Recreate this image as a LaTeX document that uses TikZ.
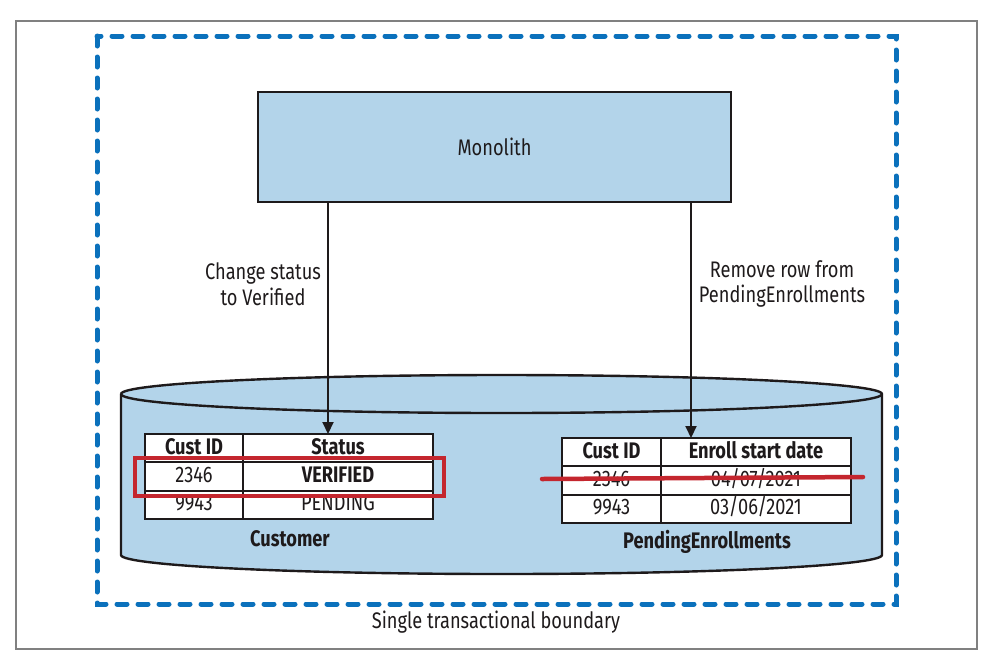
\documentclass[tikz,border=0pt]{standalone}
\usepackage{fontspec}
\setmainfont{Fira Sans}[FakeStretch=0.81]
\usetikzlibrary{arrows.meta}
\definecolor{dbblue}{HTML}{B3D4EA}
\definecolor{bndblue}{HTML}{0B71BC}
\definecolor{hlred}{HTML}{C4262E}
\definecolor{ink}{HTML}{1E1A1B}
\definecolor{framegray}{HTML}{808080}
\begin{document}
\begin{tikzpicture}[x=1pt,y=-1pt,
  every node/.style={font=\fontsize{22.5}{25.5}\selectfont, text=ink},
  cellbox/.style={draw=ink, fill=white, line width=2.2pt, inner sep=0pt, outer sep=0pt, minimum height=28.3pt, text height=15.5pt, text depth=3.5pt},
  hdr/.style={cellbox, font=\fontsize{22.5}{25.5}\selectfont\bfseries},
  lbl/.style={align=center, inner sep=0pt},
  arr/.style={draw=ink, line width=2pt, -{Triangle[length=12pt,width=11pt]}},
]
\useasboundingbox (0,0) rectangle (992,665);
% outer frame
\draw[framegray, line width=2pt] (16,21) rectangle (977,649);
% transactional boundary
\draw[bndblue, line width=5pt, line cap=round, dash pattern=on 10pt off 11pt] (97,36) rectangle (896,604);
\node[lbl] (bnd) at (496,622) {Single transactional boundary};

% database cylinder
\fill[dbblue] (121,394) -- (121,555) arc[start angle=180, end angle=0, x radius=380.5, y radius=19]
  -- (882,394) arc[start angle=0, end angle=-180, x radius=380.5, y radius=19] -- cycle;
\draw[ink, line width=2.4pt] (121,394) -- (121,555) arc[start angle=180, end angle=0, x radius=380.5, y radius=19]
  -- (882,394) arc[start angle=0, end angle=-180, x radius=380.5, y radius=19];
\draw[ink, line width=2.4pt] (121,394) arc[start angle=180, end angle=0, x radius=380.5, y radius=19];

% monolith
\node[draw=ink, fill=dbblue, line width=2.4pt, minimum width=473pt, minimum height=110pt, inner sep=0pt] (mono) at (494.5,147) {Monolith};

% customer table
\node[hdr, minimum width=98pt] (c11) at (194,448.2) {Cust ID};
\node[hdr, minimum width=190pt] (c12) at (338,448.2) {Status};
\node[cellbox, minimum width=98pt] (c21) at (194,476.5) {2346};
\node[cellbox, minimum width=190pt, font=\fontsize{22.5}{25.5}\selectfont\bfseries] (c22) at (338,476.5) {VERIFIED};
\node[cellbox, minimum width=98pt] (c31) at (194,504.8) {9943};
\node[cellbox, minimum width=190pt] (c32) at (338,504.8) {PENDING};
\node[lbl, font=\fontsize{22.5}{25.5}\selectfont\bfseries] (cname) at (290,539) {Customer};
\draw[hlred, line width=4pt] (135,458) rectangle (444,496);

% pending enrollments table
\node[hdr, minimum width=99pt] (p11) at (611.5,452.2) {Cust ID};
\node[hdr, minimum width=190pt] (p12) at (756,452.2) {Enroll start date};
\node[cellbox, minimum width=99pt] (p21) at (611.5,480.5) {2346};
\node[cellbox, minimum width=190pt] (p22) at (756,480.5) {04/07/2021};
\node[cellbox, minimum width=99pt] (p31) at (611.5,508.8) {9943};
\node[cellbox, minimum width=190pt] (p32) at (756,508.8) {03/06/2021};
\node[lbl, font=\fontsize{22.5}{25.5}\selectfont\bfseries] (pname) at (707,542) {PendingEnrollments};
\coordinate (sA) at (542,479);
\coordinate (sB) at (863,477);
\draw[hlred, line width=4.5pt, line cap=round] (sA) -- (sB);

% arrows
\coordinate (ta) at (328,434);
\coordinate (tb) at (691,438);
\draw[arr] (mono.south -| ta) -- (ta);
\draw[arr] (mono.south -| tb) -- (tb);
\node[lbl] (la) at (263,284) {Change status\\to Verified};
\node[lbl] (lb) at (782,284) {Remove row from\\PendingEnrollments};
\end{tikzpicture}
\end{document}
